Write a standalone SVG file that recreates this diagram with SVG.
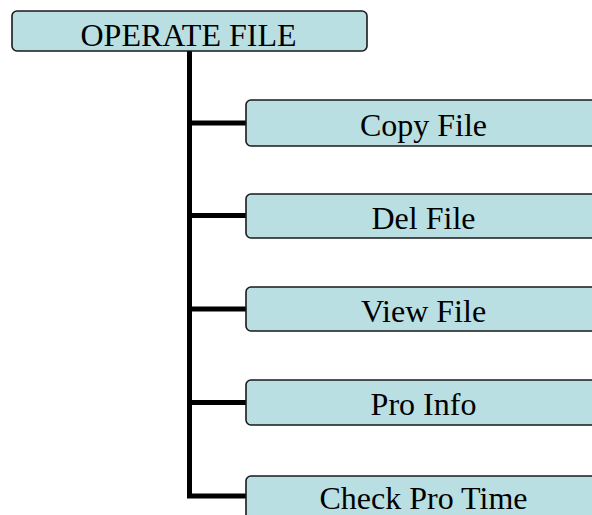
<svg xmlns="http://www.w3.org/2000/svg" width="592" height="515" viewBox="0 0 592 515">
<style>
.box{fill:#B9DFE2;stroke:#1a1a1a;stroke-width:1.6}
.lbl{font-family:"Liberation Serif","Times New Roman",serif;font-size:32px;fill:#000;text-anchor:middle}
.conn{stroke:#000;stroke-width:5;fill:none}
</style>
<rect width="592" height="515" fill="#fff"/>
<g id="connectors">
<path class="conn" d="M189.5 51 V496 M187 123 H246 M187 215.5 H246 M187 309 H246 M187 402.5 H246 M187 496 H246"/>
</g>
<g id="operate-file">
<rect class="box" x="12" y="11" width="355" height="40" rx="5"/>
<text class="lbl" x="188.5" y="46">OPERATE FILE</text>
</g>
<g id="copy-file">
<rect class="box" x="246" y="100" width="360" height="46" rx="5"/>
<text class="lbl" x="423.5" y="136">Copy File</text>
</g>
<g id="del-file">
<rect class="box" x="246" y="194" width="360" height="44" rx="5"/>
<text class="lbl" x="423.5" y="229">Del File</text>
</g>
<g id="view-file">
<rect class="box" x="246" y="287" width="360" height="44" rx="5"/>
<text class="lbl" x="423.5" y="322">View File</text>
</g>
<g id="pro-info">
<rect class="box" x="246" y="380" width="360" height="45" rx="5"/>
<text class="lbl" x="423.5" y="415">Pro Info</text>
</g>
<g id="check-pro-time">
<rect class="box" x="246" y="476" width="360" height="46" rx="5"/>
<text class="lbl" x="423.5" y="509">Check Pro Time</text>
</g>
</svg>
